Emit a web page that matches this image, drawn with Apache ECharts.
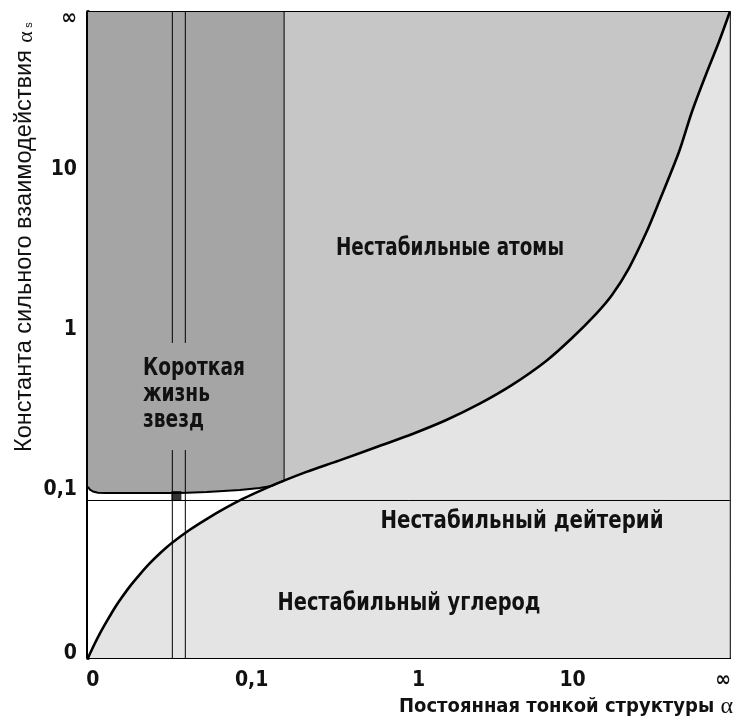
<!DOCTYPE html>
<html>
<head>
<meta charset="utf-8">
<script src="https://cdn.jsdelivr.net/npm/echarts@6/dist/echarts.min.js"></script>
<style>
  html, body { margin: 0; padding: 0; background: #fff; }
  #chart { width: 734px; height: 720px; }
</style>
</head>
<body>
<div id="chart"></div>
<script>
// Axis units: one unit per decade on a compressed scale
// x: 0 -> α=0, 1 -> 0.1, 2 -> 1, 3 -> 10, right end -> ∞
// y: 0 -> αs=0, 1 -> 0.1, 2 -> 1, 3 -> 10, top end -> ∞
const xMax = 643 / 164;
const yMax = 646 / 164;

const xTickPos = [0.03, 1.0, 2.02, 2.96, 3.88];
const xTickText = ['0', '0,1', '1', '10', '∞'];
const yTickPos = [0.03, 1.03, 2.0, 2.976, 3.90];
const yTickText = ['0', '0,1', '1', '10', '∞'];

// Carbon stability limit (lower curve): [α, αs] in axis units
const carbonLimit = [
  [0, 0], [0.037, 0.079], [0.073, 0.150], [0.116, 0.226], [0.165, 0.308],
  [0.207, 0.370], [0.256, 0.437], [0.317, 0.510], [0.378, 0.578], [0.445, 0.643],
  [0.512, 0.701], [0.622, 0.782], [0.732, 0.852], [0.841, 0.915], [0.951, 0.973],
  [1.061, 1.024], [1.171, 1.071], [1.335, 1.135], [1.537, 1.205], [1.780, 1.293],
  [1.982, 1.366], [2.189, 1.451], [2.390, 1.549], [2.591, 1.665], [2.799, 1.811],
  [2.957, 1.951], [3.104, 2.098], [3.201, 2.213], [3.305, 2.378], [3.409, 2.591],
  [3.488, 2.780], [3.610, 3.085], [3.689, 3.329], [3.774, 3.555], [3.854, 3.756],
  [3.9207, 3.939]
];

// Stellar lifetime limit (lower edge of the dark zone)
const starLimit = [
  [0, 1.043], [0.012, 1.027], [0.030, 1.015], [0.061, 1.008], [0.104, 1.006],
  [0.561, 1.006], [0.726, 1.012], [0.927, 1.024], [1.049, 1.037], [1.12, 1.049],
  [1.171, 1.071], [1.198, 1.081]
];

// Deuterium stability threshold
const deuteriumLevel = 0.9604;
// Narrow band of α values and the marked point of our Universe
const bandEdges = [0.5152, 0.5945];
const ourUniverse = [0.540, 0.988];
// Right edge of the short-lived-stars zone
const starEdge = [1.198, 1.081];

const DARK = '#a5a5a5', MID = '#c6c6c6', LIGHT = '#e4e4e4';
const NARROW = "'DejaVu Sans Condensed', 'DejaVu Sans', sans-serif";

// width of a string in a given font, used to fit labels to their boxes
const measureCtx = document.createElement('canvas').getContext('2d');
function textWidth(text, font) {
  measureCtx.font = font;
  return measureCtx.measureText(text).width;
}
function fitScale(text, font, width) {
  return width / textWidth(text, font);
}

function nearestLabel(pos, text, v) {
  let best = 0;
  for (let i = 1; i < pos.length; i++) {
    if (Math.abs(pos[i] - v) < Math.abs(pos[best] - v)) best = i;
  }
  return text[best];
}

function lineSeries(data, extra) {
  return Object.assign({
    type: 'line', data: data, showSymbol: false, symbol: 'none',
    silent: true, animation: false, smooth: false,
    lineStyle: { width: 0 }
  }, extra);
}

// region labels
const regionFont = 'bold 24px ' + NARROW;
const starsFont = 'bold 24px ' + NARROW;
const starsScale = fitScale('Короткая', starsFont, 102);

function regionLabel(text, cx, cy, width) {
  return {
    type: 'text', z: 101, x: cx, y: cy, scaleX: fitScale(text, regionFont, width),
    style: { text: text, font: regionFont, fill: '#111', align: 'center', verticalAlign: 'middle' }
  };
}
function starsLine(text, y) {
  return {
    type: 'text', z: 101, x: 143, y: y, scaleX: starsScale,
    style: { text: text, font: starsFont, fill: '#111', align: 'left', verticalAlign: 'middle' }
  };
}

// vertical axis title, written bottom to top
const yTitle = 'Константа сильного взаимодействия';
const yTitleFont = "24px 'Liberation Sans', Arial, sans-serif";
const yTitleLen = 402;

const chart = echarts.init(document.getElementById('chart'), null, { renderer: 'canvas' });

chart.setOption({
  animation: false,
  backgroundColor: '#fff',
  grid: {
    left: 88, right: 3, top: 12, bottom: 62,
    show: true, backgroundColor: LIGHT, borderColor: '#000', borderWidth: 2
  },
  xAxis: {
    type: 'value', min: 0, max: xMax,
    splitLine: { show: false },
    axisTick: { show: false },
    axisLine: { show: true, onZero: false, lineStyle: { color: '#000', width: 2 } },
    axisLabel: {
      customValues: xTickPos,
      formatter: v => nearestLabel(xTickPos, xTickText, v),
      margin: 12, color: '#111', fontFamily: NARROW, fontWeight: 'bold', fontSize: 21
    }
  },
  yAxis: {
    type: 'value', min: 0, max: yMax,
    splitLine: { show: false },
    axisTick: { show: false },
    axisLine: { show: true, onZero: false, lineStyle: { color: '#000', width: 4 } },
    axisLabel: {
      customValues: yTickPos,
      formatter: v => nearestLabel(yTickPos, yTickText, v),
      margin: 11, color: '#111', fontFamily: NARROW, fontWeight: 'bold', fontSize: 21
    }
  },
  series: [
    // unstable atoms: everything above the carbon curve
    lineSeries(carbonLimit, { smooth: 0.3, areaStyle: { color: MID, opacity: 1, origin: 'end' } }),
    // white gap below the stellar limit
    lineSeries(starLimit, { areaStyle: { color: '#fff', opacity: 1, origin: 'start' } }),
    // unstable carbon: below the curve
    lineSeries(carbonLimit, { smooth: 0.3, areaStyle: { color: LIGHT, opacity: 1, origin: 'start' } }),
    // short-lived stars zone
    lineSeries(starLimit, { areaStyle: { color: DARK, opacity: 1, origin: 'end' },
      lineStyle: { color: '#000', width: 2 } }),
    // deuterium threshold
    lineSeries([[0, deuteriumLevel], [xMax, deuteriumLevel]], { lineStyle: { color: '#000', width: 1 } }),
    // narrow α band
    lineSeries([[bandEdges[0], 0], [bandEdges[0], yMax]], { lineStyle: { color: '#000', width: 1 } }),
    lineSeries([[bandEdges[1], 0], [bandEdges[1], yMax]], { lineStyle: { color: '#000', width: 1 } }),
    // edge of the dark zone
    lineSeries([starEdge, [starEdge[0], yMax]], { lineStyle: { color: '#000', width: 1 } }),
    // carbon curve outline
    lineSeries(carbonLimit, { smooth: 0.3, lineStyle: { color: '#000', width: 2.6 } }),
    // our Universe
    {
      type: 'scatter', data: [ourUniverse], symbol: 'rect', symbolSize: 10,
      itemStyle: { color: '#000' }, silent: true, animation: false, z: 5
    }
  ],
  graphic: [
    { type: 'rect', z: 100, shape: { x: 140, y: 343, width: 110, height: 107 }, style: { fill: DARK } },
    starsLine('Короткая', 368.5),
    starsLine('жизнь', 394.5),
    starsLine('звезд', 420.5),
    regionLabel('Нестабильные атомы', 450, 249, 228),
    regionLabel('Нестабильный дейтерий', 522, 522, 283),
    regionLabel('Нестабильный углерод', 409, 604, 263),
    {
      type: 'group', x: 24, y: 452, rotation: Math.PI / 2, z: 101,
      children: [
        { type: 'text', x: 0, y: 0, scaleX: fitScale(yTitle, yTitleFont, yTitleLen),
          style: { text: yTitle, font: yTitleFont, fill: '#111', align: 'left', verticalAlign: 'middle' } },
        { type: 'text', x: yTitleLen + 13, y: 2,
          style: { text: 'α', font: "22px 'Liberation Serif', serif", fill: '#111', align: 'center', verticalAlign: 'middle' } },
        { type: 'text', x: yTitleLen + 25, y: 5,
          style: { text: 's', font: "11px 'Liberation Sans', sans-serif", fill: '#111', align: 'center', verticalAlign: 'middle' } }
      ]
    },
    { type: 'text', z: 101, x: 733, y: 707,
      style: {
        text: 'Постоянная тонкой структуры {a|α}',
        font: 'bold 20px ' + NARROW, fill: '#111', align: 'right', verticalAlign: 'middle',
        rich: { a: { fontFamily: 'Liberation Serif', fontSize: 24, fill: '#111' } }
      } }
  ]
});
</script>
</body>
</html>
